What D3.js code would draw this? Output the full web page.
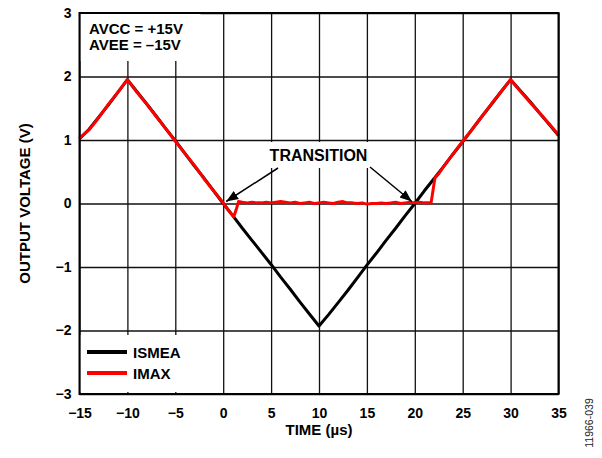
<!DOCTYPE html>
<html>
<head>
<meta charset="utf-8">
<script src="https://cdn.jsdelivr.net/npm/d3@7"></script>
<style>
  body { margin: 0; background: #fff; }
  text { font-family: "Liberation Sans", Arial, sans-serif; }
</style>
</head>
<body>
<div class="chart"></div>
<script>
// tick values
const xTicks = [-15, -10, -5, 0, 5, 10, 15, 20, 25, 30, 35]
const yTicks = [-3, -2, -1, 0, 1, 2, 3]

// ISMEA trace (time in us, output in V)
const ismeaTime = [-15, -14, -13, -12, -11, -10, -9, -8, -7, -6, -5, -4, -3, -2, -1, 0,
    1, 2, 3, 4, 5, 6, 7, 8, 9, 10, 11, 12, 13, 14, 15, 16, 17, 18, 19, 20,
    21, 22, 23, 24, 25, 26, 27, 28, 29, 30, 31, 32, 33, 34, 35]
const ismeaValue = [1.02, 1.17, 1.36, 1.55, 1.75, 1.95, 1.76, 1.57, 1.38, 1.18, 0.99, 0.79, 0.59, 0.40, 0.20, 0.00,
    -0.19, -0.39, -0.58, -0.77, -0.96, -1.16, -1.35, -1.55, -1.74, -1.93, -1.75, -1.56, -1.37, -1.17, -0.97, -0.78, -0.58, -0.39, -0.19, 0.00,
    0.20, 0.39, 0.58, 0.78, 0.97, 1.17, 1.37, 1.56, 1.76, 1.95, 1.78, 1.61, 1.43, 1.25, 1.07]

// IMAX trace
const imaxTime = [-15, -14, -13, -12, -11, -10, -9, -8, -7, -6, -5, -4, -3, -2, -1, 0,
    0.5, 1.1, 1.35, 1.6, 2, 2.5, 3, 3.5, 4, 4.5, 5, 5.5, 6, 6.5, 7, 7.5, 8, 8.5, 9, 9.5, 10,
    10.5, 11, 11.5, 12, 12.5, 13, 13.5, 14, 14.5, 15, 15.5, 16, 16.5, 17, 17.5, 18, 18.5, 19, 19.5, 20,
    20.5, 21, 21.7, 22.1, 22.5, 23, 24, 25, 26, 27, 28, 29, 30, 31, 32, 33, 34, 35]
const imaxValue = [1.03, 1.16, 1.35, 1.56, 1.75, 1.95, 1.75, 1.57, 1.37, 1.18, 0.98, 0.79, 0.60, 0.39, 0.20, 0.01,
    -0.10, -0.21, -0.10, 0.03, 0.02, 0.01, 0.02, 0.01, 0.01, 0.02, 0.01, 0.02, 0.03, 0.02, 0.01, 0.02, 0.00, 0.01, 0.02, 0.00, 0.01,
    0.02, 0.01, 0.00, 0.02, 0.03, 0.01, 0.01, 0.00, 0.01, -0.01, 0.00, 0.00, 0.01, 0.00, 0.01, 0.02, 0.00, 0.01, 0.02, 0.01,
    0.02, 0.01, 0.01, 0.40, 0.47, 0.58, 0.78, 0.98, 1.17, 1.37, 1.57, 1.76, 1.95, 1.77, 1.60, 1.43, 1.26, 1.08]

const dimensions = {
    width: 602,
    height: 458,
    margin: { top: 13, bottom: 64, right: 43.5, left: 79.5 }
}

const svg = d3.select(".chart")
    .append("svg")
    .attr("width", dimensions.width)
    .attr("height", dimensions.height)

const x = d3.scaleLinear().domain([-15, 35])
    .range([dimensions.margin.left, dimensions.width - dimensions.margin.right])
const y = d3.scaleLinear().domain([-3, 3])
    .range([dimensions.height - dimensions.margin.bottom, dimensions.margin.top])

const plotW = x(35) - x(-15)
const plotH = y(-3) - y(3)

// grid via axes
const xAxis = svg.append("g")
    .attr("transform", `translate(0, ${y(-3)})`)
    .call(d3.axisBottom(x).tickValues(xTicks).tickSize(-plotH).tickPadding(10).tickFormat(d3.format("d")))
const yAxis = svg.append("g")
    .attr("transform", `translate(${x(-15)}, 0)`)
    .call(d3.axisLeft(y).tickValues(yTicks).tickSize(-plotW).tickPadding(8).tickFormat(d3.format("d")))

for (const ax of [xAxis, yAxis]) {
    ax.select(".domain").remove()
    ax.selectAll(".tick line").attr("stroke", "#111").attr("stroke-width", 1.3)
    ax.selectAll(".tick text")
        .attr("fill", "#000")
        .style("font-family", "'Liberation Sans', Arial, sans-serif")
        .style("font-weight", "bold")
        .style("font-size", "14px")
}
xAxis.selectAll(".tick text").attr("dy", "0.72em").attr("y", 14)

// white boxes behind annotation text
svg.append("rect").attr("x", x(-15) + 1).attr("y", y(3) + 1).attr("width", 120).attr("height", 47).attr("fill", "#fff")
svg.append("rect").attr("x", x(-15) + 1).attr("y", 335).attr("width", 120).attr("height", 57).attr("fill", "#fff")
svg.append("rect").attr("x", 265).attr("y", 142).attr("width", 107).attr("height", 26).attr("fill", "#fff")

// traces
const ismea = ismeaTime.map((t, i) => [t, ismeaValue[i]])
const imax = imaxTime.map((t, i) => [t, imaxValue[i]])
const line = d3.line().x(d => x(d[0])).y(d => y(d[1]))

svg.append("path").datum(ismea)
    .attr("d", line).attr("fill", "none")
    .attr("stroke", "#000").attr("stroke-width", 3).attr("stroke-linejoin", "round")
svg.append("path").datum(imax)
    .attr("d", line).attr("fill", "none")
    .attr("stroke", "#f00").attr("stroke-width", 3).attr("stroke-linejoin", "round")

// border
svg.append("rect")
    .attr("x", x(-15)).attr("y", y(3))
    .attr("width", plotW).attr("height", plotH)
    .attr("fill", "none").attr("stroke", "#000").attr("stroke-width", 2)

// annotations
const bold = sel => sel.attr("font-weight", "bold").attr("fill", "#000")
svg.append("text").attr("x", 89).attr("y", 34).attr("font-size", 15).call(bold).text("AVCC = +15V")
svg.append("text").attr("x", 89).attr("y", 50).attr("font-size", 15).call(bold).text("AVEE = –15V")
svg.append("text").attr("x", 318.5).attr("y", 161).attr("text-anchor", "middle").attr("font-size", 16).call(bold).text("TRANSITION")

// arrows
svg.append("defs").append("marker")
    .attr("id", "arrow").attr("viewBox", "0 0 10 10")
    .attr("refX", 10).attr("refY", 5)
    .attr("markerWidth", 12).attr("markerHeight", 12)
    .attr("markerUnits", "userSpaceOnUse")
    .attr("orient", "auto")
    .append("path").attr("d", "M0,1 L10,5 L0,9 Z").attr("fill", "#000")

svg.append("line").attr("x1", 278).attr("y1", 168).attr("x2", x(0) + 3).attr("y2", y(0) - 2)
    .attr("stroke", "#000").attr("stroke-width", 1.5).attr("marker-end", "url(#arrow)")
svg.append("line").attr("x1", 370).attr("y1", 167).attr("x2", x(20) - 3).attr("y2", y(0) - 2)
    .attr("stroke", "#000").attr("stroke-width", 1.5).attr("marker-end", "url(#arrow)")

// legend
const legend = [["ISMEA", "#000"], ["IMAX", "#f00"]]
legend.forEach(([name, color], i) => {
    const ly = 352 + i * 21
    svg.append("line").attr("x1", 87).attr("x2", 127).attr("y1", ly).attr("y2", ly)
        .attr("stroke", color).attr("stroke-width", 4)
    svg.append("text").attr("x", 133).attr("y", ly + 5.5).attr("font-size", 15).call(bold).text(name)
})

// axis titles
svg.append("text").attr("x", x(10)).attr("y", 434.5).attr("text-anchor", "middle")
    .attr("font-size", 15).call(bold).text("TIME (µs)")
svg.append("text").attr("transform", `translate(30, ${(y(3) + y(-3)) / 2}) rotate(-90)`)
    .attr("text-anchor", "middle").attr("font-size", 15).call(bold).text("OUTPUT VOLTAGE (V)")

// figure id
svg.append("text").attr("transform", "translate(593, 423) rotate(-90)")
    .attr("text-anchor", "middle").attr("font-size", 10.5).attr("fill", "#222")
    .text("11966-039")
</script>
</body>
</html>
